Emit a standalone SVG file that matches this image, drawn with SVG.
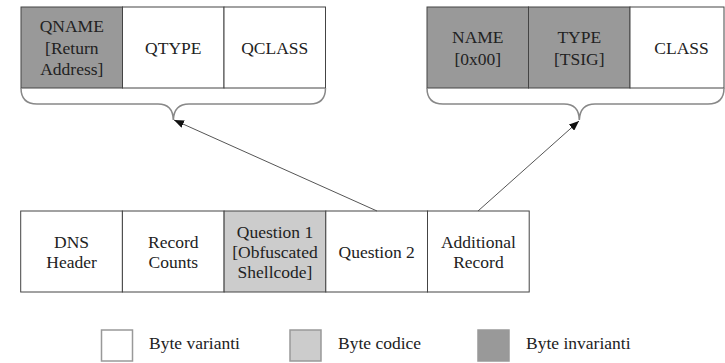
<svg xmlns="http://www.w3.org/2000/svg" width="725" height="363" viewBox="0 0 725 363">
<style>
text{font-family:"Liberation Serif","Times New Roman",serif;font-size:17.5px;fill:#222;text-anchor:middle}
.legend text{text-anchor:start}
.cell{stroke:#444;stroke-width:1}
.w{fill:#fff}
.l{fill:#cccccc}
.d{fill:#999999}
.brace{fill:none;stroke:#888;stroke-width:1.5}
.arrow{stroke:#555;stroke-width:1;fill:none}
.lg{stroke:#999;stroke-width:1.5}
</style>
<defs>
<marker id="ah" markerUnits="userSpaceOnUse" markerWidth="11" markerHeight="8" refX="10" refY="4" orient="auto">
<path d="M0,0 L10,4 L0,8 z" fill="#111"/>
</marker>
</defs>
<rect width="725" height="363" fill="#fff"/>
<g id="question-fields">
<rect class="cell d" x="21" y="7" width="101.5" height="81"/>
<rect class="cell w" x="122.5" y="7" width="101.5" height="81"/>
<rect class="cell w" x="224" y="7" width="101.5" height="81"/>
<text x="71.8" y="32">QNAME</text>
<text x="71.8" y="53.5">[Return</text>
<text x="71.8" y="75">Address]</text>
<text x="173.3" y="53.5">QTYPE</text>
<text x="274.8" y="53.5">QCLASS</text>
<path class="brace" d="M21,88 Q21,104 37,104 L158,104 Q173,104 173.3,120 Q174,104 189,104 L310,104 Q325.5,104 325.5,88"/>
</g>
<g id="record-fields">
<rect class="cell d" x="427" y="7" width="101.5" height="81"/>
<rect class="cell d" x="528.5" y="7" width="101.5" height="81"/>
<rect class="cell w" x="630" y="7" width="94" height="81"/>
<text x="477.8" y="43">NAME</text>
<text x="477.8" y="64.5">[0x00]</text>
<text x="579.3" y="43">TYPE</text>
<text x="579.3" y="64.5">[TSIG]</text>
<text x="681.5" y="53.5">CLASS</text>
<path class="brace" d="M427,88 Q427,104 443,104 L564,104 Q579,104 579.3,120 Q580,104 595,104 L708,104 Q724,104 724,88"/>
</g>
<g id="dns-packet">
<rect class="cell w" x="20.7" y="211" width="101.7" height="81"/>
<rect class="cell w" x="122.4" y="211" width="101.7" height="81"/>
<rect class="cell l" x="224.1" y="211" width="101.7" height="81"/>
<rect class="cell w" x="325.8" y="211" width="101.7" height="81"/>
<rect class="cell w" x="427.5" y="211" width="101.7" height="81"/>
<text x="71.6" y="247.5">DNS</text>
<text x="71.6" y="267.5">Header</text>
<text x="173.3" y="247.5">Record</text>
<text x="173.3" y="267.5">Counts</text>
<text x="275" y="237.5">Question 1</text>
<text x="275" y="257.5">[Obfuscated</text>
<text x="275" y="277.5">Shellcode]</text>
<text x="376.7" y="257.5">Question 2</text>
<text x="478.4" y="247.5">Additional</text>
<text x="478.4" y="267.5">Record</text>
</g>
<g id="connectors">
<line class="arrow" x1="377" y1="211" x2="174" y2="120" marker-end="url(#ah)"/>
<line class="arrow" x1="478" y1="211" x2="579" y2="121" marker-end="url(#ah)"/>
</g>
<g id="legend" class="legend">
<rect class="lg" x="101.5" y="330" width="31" height="31" fill="#fff"/>
<text x="149" y="349">Byte varianti</text>
<rect class="lg" x="290" y="330" width="31" height="31" fill="#cccccc"/>
<text x="338" y="349">Byte codice</text>
<rect class="lg" x="478" y="330" width="31" height="31" fill="#999999" stroke="#777"/>
<text x="526" y="349">Byte invarianti</text>
</g>
</svg>
